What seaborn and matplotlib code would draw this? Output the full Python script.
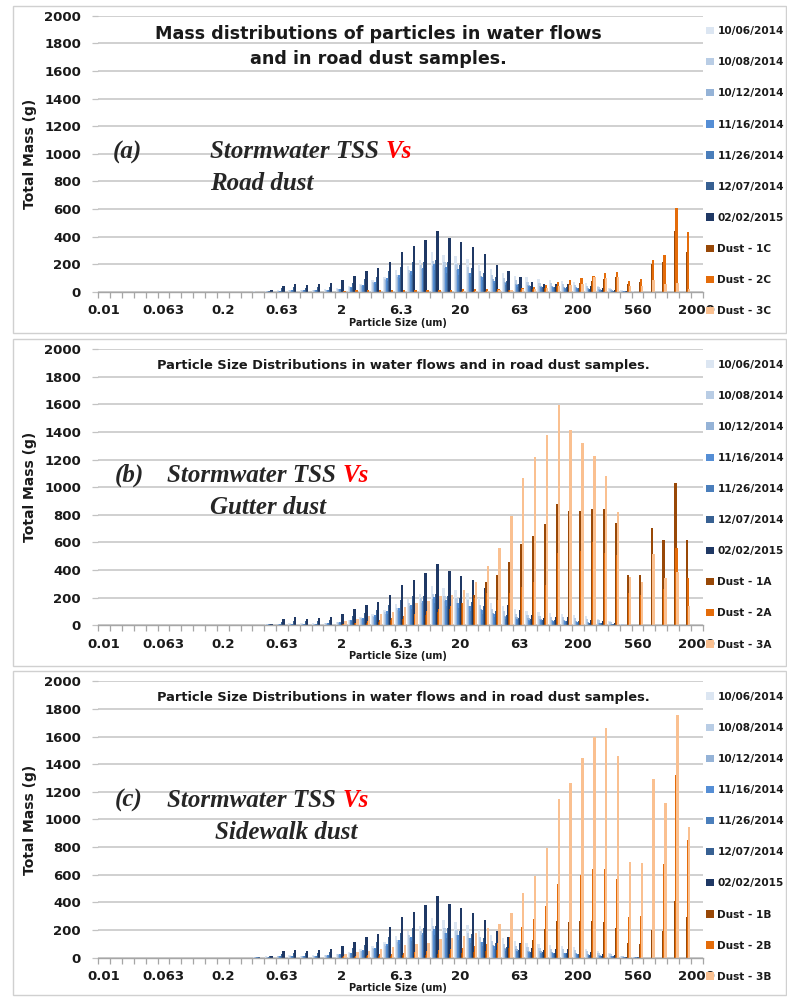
import matplotlib
matplotlib.use("Agg")
import matplotlib.pyplot as plt
from matplotlib.patches import Rectangle
from matplotlib.ticker import FixedLocator
import pandas as pd
import seaborn as sns

# ---------------------------------------------------------------- data
N_BINS = 51
size_classes = list(range(N_BINS))          # particle size class index
tick_positions = list(range(0, N_BINS, 5))
tick_labels = ["0.01", "0.063", "0.2", "0.63", "2", "6.3", "20", "63",
               "200", "560", "2000"]


def bins(first, values):
    """Place the masses of consecutive size classes starting at class `first`."""
    out = [0] * first + list(values)
    out += [0] * (N_BINS - len(out))
    assert len(out) == N_BINS
    return out


storm_dates = ["10/06/2014", "10/08/2014", "10/12/2014", "11/16/2014",
               "11/26/2014", "12/07/2014", "02/02/2015"]

tss_1006 = bins(13, [3, 8, 12, 15, 14, 15, 18, 25, 40, 60, 85, 110, 155, 190,
                     228, 288, 268, 258, 236, 200, 165, 140, 118, 105, 95, 88,
                     82, 75, 65, 45, 30, 12, 3])
tss_1008 = bins(13, [2, 6, 10, 12, 12, 13, 15, 22, 35, 50, 70, 95, 125, 160,
                     195, 225, 215, 200, 180, 150, 120, 100, 85, 75, 68, 62,
                     58, 52, 45, 35, 22, 8, 2])
tss_1012 = bins(13, [1, 5, 8, 10, 10, 11, 13, 20, 30, 45, 62, 85, 110, 140,
                     165, 190, 175, 160, 140, 115, 90, 70, 58, 50, 45, 40, 36,
                     32, 26, 20, 12, 5, 1])
tss_1116 = bins(13, [1, 6, 10, 12, 12, 13, 16, 24, 36, 52, 72, 100, 125, 150,
                     175, 205, 180, 165, 140, 110, 80, 62, 48, 40, 36, 33, 30,
                     26, 20, 14, 8, 3, 1])
tss_1126 = bins(13, [1, 5, 9, 11, 11, 12, 14, 20, 30, 44, 60, 82, 100, 120,
                     140, 160, 140, 125, 105, 85, 62, 48, 38, 32, 28, 25, 22,
                     18, 14, 10, 6, 2, 0])
tss_1207 = bins(13, [2, 10, 25, 32, 30, 34, 38, 50, 68, 90, 110, 150, 180, 215,
                     215, 230, 215, 195, 170, 140, 105, 78, 55, 42, 38, 36, 33,
                     28, 20, 14, 8, 3, 1])
tss_0202 = bins(14, [12, 45, 57, 48, 55, 62, 84, 115, 149, 171, 219, 291, 330,
                     378, 443, 390, 359, 325, 272, 192, 148, 108, 72, 55, 60,
                     60, 55, 40, 28, 15, 5])
storm_values = [tss_1006, tss_1008, tss_1012, tss_1116, tss_1126, tss_1207,
                tss_0202]

# road dust (C samples)
dust_1c = bins(30, [5, 6, 8, 10, 12, 15, 20, 30, 45, 55, 65, 80, 95, 110, 60,
                    70, 202, 219, 441, 287])
dust_2c = bins(20, [10, 12, 14, 15, 15, 16, 15, 16, 17, 16, 18, 20, 21, 21, 16,
                    28, 35, 48, 74, 86, 98, 118, 135, 147, 81, 91, 231, 267,
                    606, 436])
dust_3c = bins(30, [5, 8, 10, 12, 15, 18, 22, 30, 40, 48, 55, 106, 98, 106, 45,
                    45, 86, 60, 68, 24])

# gutter dust (A samples)
dust_1a = bins(20, [8, 15, 20, 25, 35, 45, 60, 75, 95, 120, 160, 220, 315, 364,
                    460, 586, 646, 731, 875, 827, 827, 841, 839, 742, 364, 364,
                    706, 617, 1027, 617])
dust_2a = bins(20, [10, 20, 28, 35, 50, 65, 80, 100, 120, 140, 160, 200, 231,
                    183, 231, 280, 313, 292, 520, 530, 540, 600, 520, 509, 231,
                    219, 400, 265, 561, 340])
dust_3a = bins(20, [30, 43, 67, 80, 98, 134, 160, 175, 212, 219, 255, 315, 431,
                    561, 790, 1070, 1220, 1377, 1598, 1413, 1321, 1227, 1082,
                    822, 352, 315, 514, 344, 383, 142])

# sidewalk dust (B samples)
dust_1b = bins(20, [3, 5, 8, 10, 12, 15, 18, 20, 24, 28, 32, 38, 45, 55, 70,
                    95, 127, 204, 267, 260, 267, 267, 260, 211, 103, 100, 199,
                    193, 409, 291])
dust_2b = bins(20, [8, 12, 18, 22, 28, 35, 40, 45, 55, 62, 70, 85, 100, 103,
                    151, 223, 277, 373, 532, 562, 598, 639, 639, 569, 291, 303,
                    653, 675, 1322, 851])
dust_3b = bins(20, [23, 37, 49, 62, 78, 90, 95, 107, 134, 139, 158, 175, 211,
                    240, 325, 465, 593, 796, 1146, 1267, 1443, 1600, 1661,
                    1460, 692, 687, 1296, 1117, 1757, 948])

series_colors = ["#dce6f2", "#b9cde5", "#95b3d7", "#558ed5", "#4a7ebb",
                 "#376092", "#1f3864", "#984807", "#e46c0a", "#fac090"]

panels = [
    dict(letter="(a)", dust=["Dust - 1C", "Dust - 2C", "Dust - 3C"],
         values=[dust_1c, dust_2c, dust_3c], second="Road dust",
         title="Mass distributions of particles in water flows\nand in road dust samples."),
    dict(letter="(b)", dust=["Dust - 1A", "Dust - 2A", "Dust - 3A"],
         values=[dust_1a, dust_2a, dust_3a], second="Gutter dust",
         title="Particle Size Distributions in water flows and in road dust samples."),
    dict(letter="(c)", dust=["Dust - 1B", "Dust - 2B", "Dust - 3B"],
         values=[dust_1b, dust_2b, dust_3b], second="Sidewalk dust",
         title="Particle Size Distributions in water flows and in road dust samples."),
]

# ---------------------------------------------------------------- layout
W, H = 787, 997
sns.set_theme(style="white")
plt.rcParams["font.family"] = ["DejaVu Sans"]
fig = plt.figure(figsize=(W / 100, H / 100), dpi=100)


def fx(x):
    return x / W


def fy(y):
    return 1 - y / H


ax_left, ax_right = 98.3, 702.7
baselines = [291.9, 625.3, 957.5]
plot_h = 276.2
boxes = [(13, 6, 786, 333), (13, 339, 786, 666), (13, 671, 786, 995)]
title_y = [(34, 59), (365,), (697,)]
title_size = [12.6, 9.4, 9.4]
letter_pos = [(113, 152), (115, 475), (115, 800)]
storm_pos = [(210, 152), (167, 475), (167, 800)]
second_pos = [(210, 184), (210, 507), (215, 832)]
serif_size = 18

grid_color = "#c3c3c3"
serif = ["Liberation Serif", "DejaVu Serif"]
BAR_W = 0.2

for i, spec in enumerate(panels):
    # chart frame
    x0, y0, x1, y1 = boxes[i]
    fig.add_artist(Rectangle((fx(x0), fy(y1)), fx(x1 - x0), (y1 - y0) / H,
                             transform=fig.transFigure, fill=False,
                             edgecolor="#d0d0d0", lw=1.0))

    ax = fig.add_axes([fx(ax_left), fy(baselines[i]),
                       (ax_right - ax_left) / W, plot_h / H])

    names = storm_dates + spec["dust"]
    vals = storm_values + spec["values"]
    df = pd.DataFrame({
        "size_class": [c for _ in names for c in size_classes],
        "mass": [v for series in vals for v in series],
        "series": [n for n in names for _ in size_classes],
    })
    sns.barplot(data=df, x="size_class", y="mass", hue="series",
                hue_order=names, order=size_classes,
                palette=series_colors, saturation=1, width=0.8, dodge=True,
                errorbar=None, linewidth=0, ax=ax)

    # Excel-style overlapping columns: widen each bar around its centre
    for cont in ax.containers:
        for bar in cont:
            w = bar.get_width()
            bar.set_width(BAR_W)
            bar.set_x(bar.get_x() - (BAR_W - w) / 2)

    ax.set_xlim(-0.5, N_BINS - 0.5)
    ax.set_ylim(0, 2000)
    ax.set_yticks(range(0, 2001, 200))
    ax.set_xticks(tick_positions)
    ax.set_xticklabels(tick_labels)
    ax.xaxis.set_minor_locator(FixedLocator([k - 0.5 for k in range(N_BINS + 1)]))
    ax.tick_params(axis="x", which="major", length=0, pad=9, labelsize=9.5)
    ax.tick_params(axis="x", which="minor", length=4.5, width=0.9,
                   color="#a6a6a6", bottom=True)
    ax.tick_params(axis="y", length=4.5, width=0.9, color=grid_color,
                   pad=8, labelsize=9.5, left=True)
    for lab in ax.get_xticklabels() + ax.get_yticklabels():
        lab.set_fontweight("bold")
        lab.set_color("#1a1a1a")
    ax.yaxis.grid(True, color=grid_color, lw=1.1)
    ax.set_axisbelow(True)
    for side in ("left", "top", "right"):
        ax.spines[side].set_visible(False)
    ax.spines["bottom"].set_color("#a6a6a6")
    ax.spines["bottom"].set_linewidth(1.0)
    ax.set_facecolor("none")

    ax.set_xlabel("Particle Size (um)", fontsize=7, fontweight="bold",
                  color="#1a1a1a")
    ax.xaxis.set_label_coords(0.496, -0.112)
    ax.xaxis.label.set_va("center")
    ax.set_ylabel("Total Mass (g)", fontsize=10, fontweight="bold",
                  color="#1a1a1a")
    ax.yaxis.set_label_coords(-0.113, 0.5)
    ax.yaxis.label.set_va("center")

    sns.move_legend(ax, "upper left", bbox_to_anchor=(1.006, 0.962),
                    frameon=False, title=None, borderaxespad=0, borderpad=0,
                    prop={"weight": "bold", "size": 7.6},
                    labelspacing=2.0, handlelength=0.7, handleheight=0.7,
                    handletextpad=0.35, labelcolor="#1a1a1a")

    # titles and annotations
    if len(title_y[i]) == 2:
        for line, ty in zip(spec["title"].split("\n"), title_y[i]):
            fig.text(fx(378), fy(ty), line, ha="center", va="center",
                     fontsize=title_size[i], fontweight="bold", color="#1a1a1a")
    else:
        fig.text(fx(403), fy(title_y[i][0]), spec["title"], ha="center",
                 va="center", fontsize=title_size[i], fontweight="bold",
                 color="#1a1a1a")

    fig.text(fx(letter_pos[i][0]), fy(letter_pos[i][1]), spec["letter"],
             ha="left", va="center", fontsize=serif_size, fontweight="bold",
             fontstyle="italic", family=serif)
    t = fig.text(fx(storm_pos[i][0]), fy(storm_pos[i][1]), "Stormwater TSS ",
                 ha="left", va="center", fontsize=serif_size, fontweight="bold",
                 fontstyle="italic", family=serif)
    fig.canvas.draw()
    bb = t.get_window_extent()
    fig.text(bb.x1 / fig.bbox.width, fy(storm_pos[i][1]), "Vs", ha="left",
             va="center", fontsize=serif_size, fontweight="bold",
             fontstyle="italic", family=serif, color="#ff0000")
    fig.text(fx(second_pos[i][0]), fy(second_pos[i][1]), spec["second"],
             ha="left", va="center", fontsize=serif_size, fontweight="bold",
             fontstyle="italic", family=serif)

fig.savefig("out.png", dpi=100, facecolor="white")
